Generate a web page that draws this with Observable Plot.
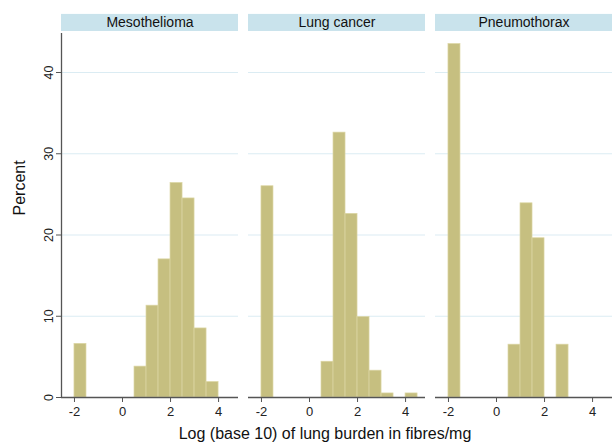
<!DOCTYPE html>
<html><head><meta charset="utf-8">
<script src="https://cdn.jsdelivr.net/npm/d3@7"></script>
<script src="https://cdn.jsdelivr.net/npm/@observablehq/plot@0.6"></script>
<style>
body{margin:0;background:#fff;}
svg{font-family:"Liberation Sans",Arial,sans-serif;}
</style>
</head><body><div id="chart"></div>
<script>
const panels = ["Mesothelioma", "Lung cancer", "Pneumothorax"];
const binStarts = [-2, -1.5, -1, -0.5, 0, 0.5, 1, 1.5, 2, 2.5, 3, 3.5, 4];
const binWidth = 0.5;
const mesothelioma = [6.6, 0, 0, 0, 0, 3.8, 11.3, 17.0, 26.4, 24.5, 8.5, 1.9, 0];
const lungCancer   = [26.0, 0, 0, 0, 0, 4.4, 32.6, 22.6, 9.9, 3.3, 0.5, 0, 0.5];
const pneumothorax = [43.5, 0, 0, 0, 0, 6.5, 23.9, 19.6, 0, 6.5, 0, 0, 0];
const xTicks = [-2, 0, 2, 4];
const yTicks = [0, 10, 20, 30, 40];
const gridTicks = [10, 20, 30, 40];
const xLabel = "Log (base 10) of lung burden in fibres/mg";
const yLabel = "Percent";

const series = [mesothelioma, lungCancer, pneumothorax];
const bars = [];
panels.forEach((p, i) => series[i].forEach((v, j) => {
  if (v > 0) bars.push({panel: p, x1: binStarts[j], x2: binStarts[j] + binWidth, pct: v});
}));

const xDomain = [-2.54, 4.83];
const yDomain = [0, 44.8];
const headerLo = 45.05, headerHi = 47.15;
const xMid = (xDomain[0] + xDomain[1]) / 2;

const chart = Plot.plot({
  width: 612, height: 444,
  marginLeft: 60, marginRight: 0, marginTop: 33, marginBottom: 47,
  fx: {domain: panels, paddingInner: 0.055, paddingOuter: 0, axis: null, label: null},
  x: {domain: xDomain, label: null},
  y: {domain: yDomain, label: null},
  style: {fontFamily: "Liberation Sans, Arial, sans-serif", fontSize: "12px", color: "#222"},
  marks: [
    Plot.rect(panels, {fx: d => d, x1: () => xDomain[0], x2: () => xDomain[1], y1: () => headerLo, y2: () => headerHi, fill: "#c9e3ec"}),
    Plot.text(panels, {fx: d => d, x: () => xMid, y: () => (headerLo + headerHi) / 2, text: d => d, fontSize: 14, fill: "#111"}),
    Plot.ruleY(gridTicks, {stroke: "#dbecf3", strokeWidth: 1.2}),
    Plot.rectY(bars, {fx: "panel", x1: "x1", x2: "x2", y: "pct", fill: "#c6bf80", stroke: "#dcd6a4", strokeWidth: 0.7}),
    Plot.ruleY([0], {stroke: "#555", strokeWidth: 1.3}),
    Plot.ruleX(panels.slice(0, 1), {fx: d => d, x: () => xDomain[0], stroke: "#555", strokeWidth: 1.3}),
    Plot.axisX({ticks: xTicks, tickSize: 5, tickPadding: 4, stroke: "#555", fontSize: 13, tickFormat: d => d < 0 ? "-" + Math.abs(d) : String(d), label: null}),
    Plot.axisY({ticks: yTicks, tickSize: 5, tickPadding: 4, tickRotate: -90, fontSize: 12.5, stroke: "#555", label: null}),
    Plot.text([yLabel], {fx: () => panels[0], frameAnchor: "left", rotate: -90, dx: -42, text: d => d, fontSize: 16, fill: "#111"}),
    Plot.text([xLabel], {fx: () => panels[1], frameAnchor: "bottom", dy: 41, dx: -12, text: d => d, fontSize: 16, fill: "#111"})
  ]
});
document.getElementById("chart").appendChild(chart);
</script>
</body></html>
